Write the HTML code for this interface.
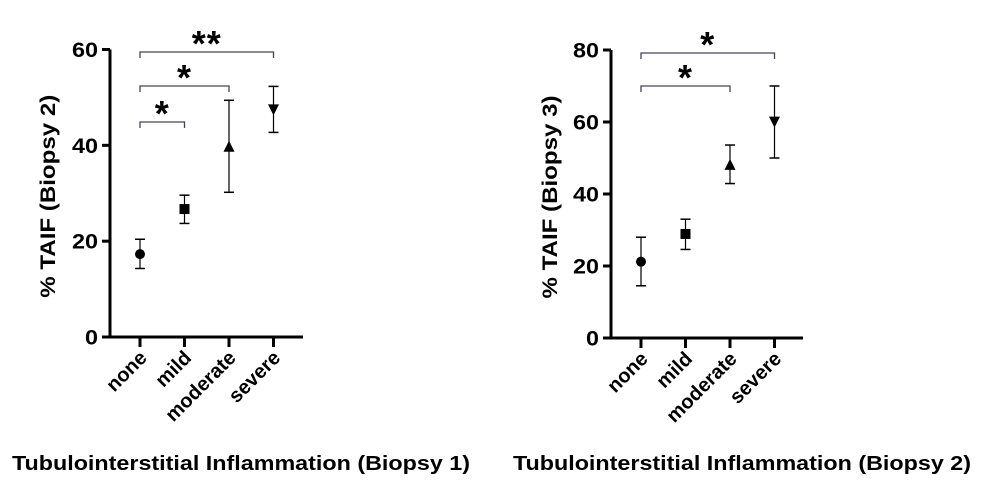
<!DOCTYPE html>
<html><head><meta charset="utf-8"><style>
html,body{margin:0;padding:0;background:#fff;}
svg{display:block;font-family:"Liberation Sans",Arial,sans-serif;}
</style></head><body>
<svg id="s" width="983" height="492" viewBox="0 0 983 492"></svg>
<script>
const categories = ["none","mild","moderate","severe"];
const means1 = [17.3, 26.7, 39.7, 47.5];
const lows1 = [14.3, 23.7, 30.2, 42.7];
const highs1 = [20.4, 29.6, 49.4, 52.3];
const yTicks1 = [0, 20, 40, 60];
const means2 = [21.2, 28.9, 48.1, 60.1];
const lows2 = [14.5, 24.6, 42.9, 50.0];
const highs2 = [28.0, 33.0, 53.6, 70.0];
const yTicks2 = [0, 20, 40, 60, 80];
const sig1 = [{from:0,to:3,label:"**"},{from:0,to:2,label:"*"},{from:0,to:1,label:"*"}];
const sig2 = [{from:0,to:3,label:"*"},{from:0,to:2,label:"*"}];
const markers = ["circle","square","triangle","tridown"];

const NS="http://www.w3.org/2000/svg";
const svg=document.getElementById("s");
function el(tag,attrs,parent){const e=document.createElementNS(NS,tag);for(const k in attrs)e.setAttribute(k,attrs[k]);(parent||svg).appendChild(e);return e;}

function panel(cfg){
  const g=el("g",{});
  
  
  const yMax=cfg.ticks[cfg.ticks.length-1];
  const y=v=>cfg.y0-(v/yMax)*(cfg.y0-cfg.yTop);
  const x=i=>cfg.x0+i*cfg.step;
  const ya=el("line",{x1:cfg.ax,y1:cfg.yTop,x2:cfg.ax,y2:cfg.y0+1.5,stroke:"#000","stroke-width":3},g);
  
  const xa=el("line",{x1:cfg.ax-1.5,y1:cfg.y0,x2:cfg.axEnd,y2:cfg.y0,stroke:"#000","stroke-width":3},g);
  
  cfg.ticks.forEach(t=>{
    el("line",{x1:cfg.ax-8,y1:y(t),x2:cfg.ax,y2:y(t),stroke:"#000","stroke-width":3},g);
    const s=String(t);
    const tl=el("text",{x:cfg.ax-12-13*s.length,y:y(t)+7.5,"font-size":21,"font-weight":"bold",textLength:13*s.length,lengthAdjust:"spacingAndGlyphs"},g);
    tl.textContent=s;
    
  });
  categories.forEach((c,i)=>{
    el("line",{x1:x(i),y1:cfg.y0,x2:x(i),y2:cfg.y0+10,stroke:"#000","stroke-width":3},g);
    const tl=el("text",{x:0,y:0,"text-anchor":"end","font-size":20,"font-weight":"bold",transform:`translate(${x(i)+8},${cfg.y0+22}) rotate(-45)`},g);
    tl.textContent=c;
    
    const eb=el("g",{},g);
    
    el("line",{x1:x(i),y1:y(cfg.highs[i]),x2:x(i),y2:y(cfg.lows[i]),stroke:"#000","stroke-width":1.2},eb);
    el("line",{x1:x(i)-5,y1:y(cfg.highs[i]),x2:x(i)+5,y2:y(cfg.highs[i]),stroke:"#000","stroke-width":1.5},eb);
    el("line",{x1:x(i)-5,y1:y(cfg.lows[i]),x2:x(i)+5,y2:y(cfg.lows[i]),stroke:"#000","stroke-width":1.5},eb);
    const cx=x(i),cy=y(cfg.means[i]);let m;
    if(markers[i]==="circle")m=el("circle",{cx:cx,cy:cy,r:5,fill:"#000"},g);
    else if(markers[i]==="square")m=el("rect",{x:cx-5,y:cy-5,width:10,height:10,fill:"#000"},g);
    else if(markers[i]==="triangle")m=el("polygon",{points:`${cx},${cy-6} ${cx-5.5},${cy+5} ${cx+5.5},${cy+5}`,fill:"#000"},g);
    else m=el("polygon",{points:`${cx},${cy+6} ${cx-5.5},${cy-5} ${cx+5.5},${cy-5}`,fill:"#000"},g);
    
  });
  cfg.sig.forEach((s,k)=>{
    const by=cfg.sigY[k];
    const b=el("path",{d:`M${x(s.from)},${by+6}V${by}H${x(s.to)}V${by+6}`,fill:"none",stroke:"#44445a","stroke-width":1.3},g);
    
    const st=el("text",{x:(x(s.from)+x(s.to))/2,y:by+4,"text-anchor":"middle","font-size":36,"font-weight":"bold","letter-spacing":"1"},g);
    st.textContent=s.label;
    
  });
  const yt=el("text",{x:0,y:0,"text-anchor":"middle","font-size":21,"font-weight":"bold",textLength:203,lengthAdjust:"spacingAndGlyphs",transform:`translate(${cfg.ytX},${(cfg.y0+cfg.yTop)/2+3}) rotate(-90)`},g);
  yt.textContent=cfg.yTitle;
  
  const xt=el("text",{x:cfg.xtX,y:470,"font-size":20,"font-weight":"bold",textLength:458,lengthAdjust:"spacingAndGlyphs"},g);
  xt.textContent=cfg.xTitle;
  
}
panel({name:"chart-biopsy-2",ax:110,axEnd:303,y0:337,yTop:49.5,x0:140,step:44.5,ticks:yTicks1,means:means1,lows:lows1,highs:highs1,sig:sig1,sigY:[52,86,122],ytX:55,yTitle:"% TAIF (Biopsy 2)",xtX:12,xTitle:"Tubulointerstitial Inflammation (Biopsy 1)"});
panel({name:"chart-biopsy-3",ax:611,axEnd:803,y0:338,yTop:50,x0:641,step:44.5,ticks:yTicks2,means:means2,lows:lows2,highs:highs2,sig:sig2,sigY:[53,86],ytX:557,yTitle:"% TAIF (Biopsy 3)",xtX:513,xTitle:"Tubulointerstitial Inflammation (Biopsy 2)"});
</script>
</body></html>
